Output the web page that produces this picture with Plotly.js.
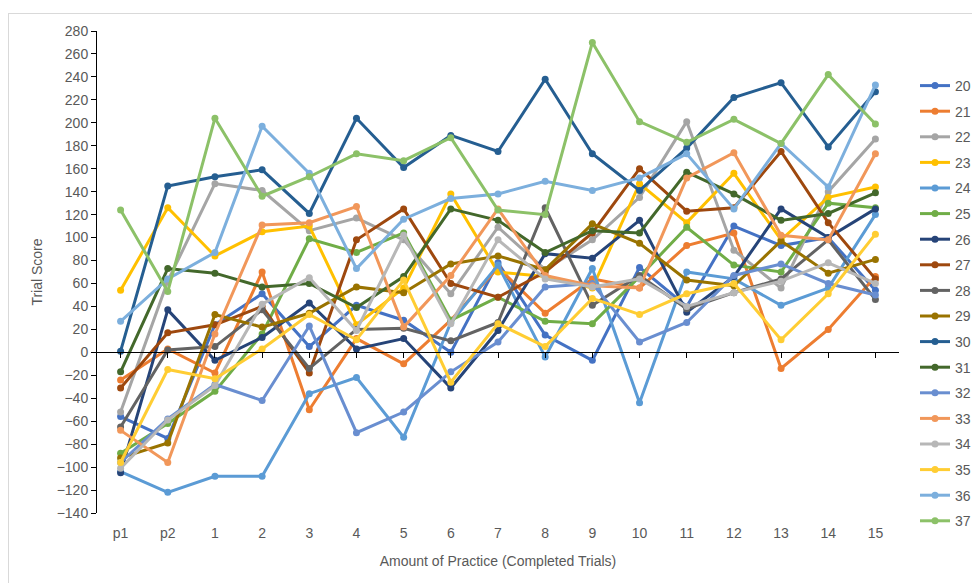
<!DOCTYPE html>
<html>
<head>
<meta charset="utf-8">
<script src="https://cdn.plot.ly/plotly-3.0.1.min.js"></script>
<style>
  html, body { margin: 0; padding: 0; background: #fff; }
  #wrap { position: relative; width: 972px; height: 583px; overflow: hidden; }
  #chart { width: 972px; height: 583px; }
  #frame { position: absolute; left: 8px; top: 13px; width: 1000px; height: 600px;
           border: 1px solid #d9d9d9; pointer-events: none; }
</style>
</head>
<body>
<div id="wrap"><div id="chart"></div><div id="frame"></div></div>
<script>
const categories = ['p1','p2','1','2','3','4','5','6','7','8','9','10','11','12','13','14','15'];
const seriesNames = ['20','21','22','23','24','25','26','27','28','29','30','31','32','33','34','35','36','37'];

const s20 = [-56, -75, 24, 51, 5, 41, 28, 0, 78, 15, -7, 74, 40, 110, 93, 100, 54];
const s21 = [-24, 3, -18, 70, -50, 12, -10, 28, 74, 34, 64, 56, 93, 104, -14, 20, 66];
const s22 = [-52, 62, 147, 141, 106, 117, 98, 51, 109, 72, 98, 135, 201, 89, 56, 140, 186];
const s23 = [54, 126, 84, 105, 110, 24, 56, 138, 70, 66, 56, 147, 113, 156, 98, 135, 144];
const s24 = [-104, -122, -108, -108, -36, -22, -74, 26, 76, -4, 73, -44, 70, 64, 41, 56, 120];
const s25 = [-88, -62, -34, 16, 99, 87, 104, 28, 48, 27, 25, 66, 109, 76, 70, 130, 126];
const s26 = [-105, 37, -7, 13, 43, 3, 12, -31, 19, 86, 82, 115, 35, 66, 125, 100, 125];
const s27 = [-31, 17, 24, 40, -18, 98, 125, 60, 48, 70, 104, 160, 123, 126, 175, 113, 64];
const s28 = [-65, 2, 5, 37, -14, 20, 21, 10, 26, 126, 41, 67, 38, 52, 64, 98, 46];
const s29 = [-92, -79, 33, 22, 34, 57, 52, 77, 84, 72, 112, 95, 63, 58, 97, 69, 81];
const s30 = [1, 145, 153, 159, 121, 204, 161, 189, 175, 238, 173, 141, 178, 222, 235, 179, 227];
const s31 = [-17, 73, 69, 57, 60, 39, 66, 125, 115, 87, 106, 104, 157, 138, 115, 121, 139];
const s32 = [-96, -58, -28, -42, 23, -70, -52, -17, 9, 57, 60, 9, 26, 67, 77, 60, 50];
const s33 = [-68, -96, 16, 111, 113, 127, 22, 67, 125, 67, 58, 56, 152, 174, 102, 98, 173];
const s34 = [-101, -59, -29, 42, 65, 19, 102, 25, 98, 64, 57, 64, 40, 52, 62, 78, 60];
const s35 = [-96, -15, -23, 3, 33, 11, 63, -26, 25, 5, 47, 33, 51, 60, 11, 51, 103];
const s36 = [27, 64, 87, 197, 156, 73, 116, 134, 138, 149, 141, 152, 173, 125, 182, 144, 233];
const s37 = [124, 53, 204, 136, 153, 173, 167, 187, 124, 120, 270, 201, 183, 203, 182, 242, 199];

const seriesValues = [s20,s21,s22,s23,s24,s25,s26,s27,s28,s29,s30,s31,s32,s33,s34,s35,s36,s37];
const colors = ['#4472C4','#ED7D31','#A5A5A5','#FFC000','#5B9BD5','#70AD47',
                '#264478','#9E480E','#636363','#997300','#255E91','#43682B',
                '#698ED0','#F1975A','#B7B7B7','#FFCD33','#7CAFDD','#8CC168'];

const yTop = 280, yBottom = -140;

const traces = seriesNames.map((name, i) => ({
  type: 'scatter', mode: 'lines+markers', name: name,
  x: categories, y: seriesValues[i],
  legendgroup: 'g' + name,
  line: { color: colors[i], width: 3 },
  marker: { color: colors[i], size: 7 },
  hoverinfo: 'x+y+name'
}));

// invisible trace carrying the category axis drawn at y = 0
traces.push({
  type: 'scatter', mode: 'markers', x: categories, y: categories.map(() => null),
  xaxis: 'x2', yaxis: 'y', showlegend: false, hoverinfo: 'skip',
  marker: { opacity: 0 }
});

const fontFam = 'Liberation Sans, Arial, sans-serif';
const txt = { family: fontFam, size: 14, color: '#595959' };
const layout = {
  width: 972, height: 583,
  margin: { l: 97, r: 73, t: 31, b: 70, autoexpand: false },
  paper_bgcolor: '#ffffff', plot_bgcolor: '#ffffff',
  font: txt,
  showlegend: true,
  legend: {
    xref: 'container', yref: 'container',
    x: 915 / 972, xanchor: 'left', y: 1 - 70 / 583, yanchor: 'top',
    maxheight: 560,
    font: txt,
    tracegroupgap: 4.4, itemwidth: 30, bgcolor: 'rgba(0,0,0,0)'
  },
  xaxis: {
    type: 'category', range: [-0.5, categories.length - 0.5],
    showline: false, showgrid: false, zeroline: false, ticks: '',
    tickfont: txt,
    ticklabelstandoff: 10,
    title: { text: 'Amount of Practice (Completed Trials)', font: txt, standoff: 16 }
  },
  xaxis2: {
    type: 'category', overlaying: 'x', anchor: 'free',
    position: (0 - yBottom) / (yTop - yBottom),
    range: [-0.5, categories.length - 0.5],
    showline: true, linecolor: '#000000', linewidth: 1,
    ticks: 'outside', ticklen: 5, tickcolor: '#000000', tickwidth: 1,
    showticklabels: false, showgrid: false, zeroline: false, side: 'bottom'
  },
  yaxis: {
    range: [yBottom, yTop], dtick: 20, tick0: 0,
    showline: true, linecolor: '#000000', linewidth: 1,
    ticks: 'outside', ticklen: 5, tickcolor: '#000000',
    showgrid: false, zeroline: false,
    tickfont: txt,
    title: { text: 'Trial Score', font: txt, standoff: 10 }
  }
};

Plotly.newPlot('chart', traces, layout, { displayModeBar: false, staticPlot: true });
</script>
</body>
</html>
